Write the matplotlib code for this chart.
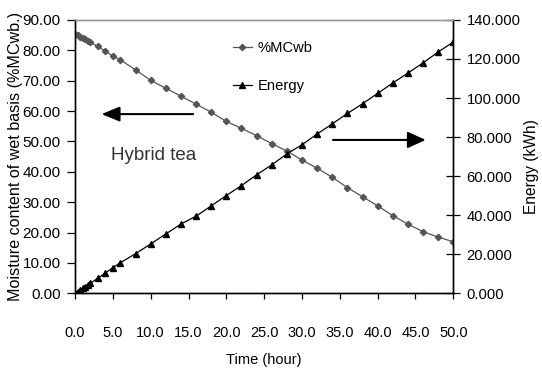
import matplotlib
matplotlib.use("Agg")
import matplotlib.pyplot as plt
from matplotlib.lines import Line2D

plt.rcParams['font.family'] = ['Liberation Sans', 'DejaVu Sans']

time_h = [0, 0.33, 0.67, 1, 1.33, 1.67, 2, 3, 4, 5, 6, 8, 10, 12, 14, 16, 18, 20,
          22, 24, 26, 28, 30, 32, 34, 36, 38, 40, 42, 44, 46, 48, 50]
mc_wb = [85.5, 85.0, 84.5, 84.0, 83.6, 83.1, 82.6, 81.3, 79.7, 78.1, 76.8, 73.6, 70.1,
         67.5, 64.9, 62.3, 59.6, 56.6, 54.3, 51.9, 49.3, 46.8, 43.9, 41.2, 38.2, 34.8,
         31.8, 28.8, 25.6, 22.8, 20.3, 18.5, 17.0]
energy = [0, 0.9, 1.7, 2.5, 3.3, 4.2, 5.1, 7.7, 10.4, 13.1, 15.7, 20.3, 25.3, 30.4,
          35.5, 39.5, 44.8, 50.1, 55.2, 60.7, 65.8, 71.4, 76.1, 81.6, 86.8, 92.1, 97.1,
          102.4, 107.7, 112.8, 118.0, 123.6, 128.7]

x_ticks = [0, 5, 10, 15, 20, 25, 30, 35, 40, 45, 50]
left_ticks = [0, 10, 20, 30, 40, 50, 60, 70, 80, 90]
right_ticks = [0, 20, 40, 60, 80, 100, 120, 140]

fig = plt.figure(figsize=(5.42, 3.69), dpi=100)
ax = fig.add_axes([0.1384, 0.205, 0.6980, 0.741])
ax2 = ax.twinx()

mc_color = '#555555'
ax.plot(time_h, mc_wb, color=mc_color, lw=0.9, marker='D', ms=3.2,
        mfc=mc_color, mec=mc_color, zorder=3)
ax2.plot(time_h, energy, color='black', lw=0.9, marker='^', ms=4.6,
         mfc='black', mec='black', zorder=3)

ax.set_xlim(0, 50)
ax.set_ylim(0, 90)
ax2.set_ylim(0, 140)

ax.set_xticks(x_ticks)
ax.set_xticklabels([f"{v:.1f}" for v in x_ticks], fontsize=10.5)
ax.set_yticks(left_ticks)
ax.set_yticklabels([f"{v:.2f}" for v in left_ticks], fontsize=11.0)
ax2.set_yticks(right_ticks)
ax2.set_yticklabels([f"{v:.3f}" for v in right_ticks], fontsize=10.6)

ax.tick_params(axis='x', direction='out', length=4.5, width=0.9, pad=19)
ax.tick_params(axis='y', direction='out', length=5.8, width=0.9, pad=4.5)
ax2.tick_params(axis='y', direction='inout', length=10, width=0.9, pad=4.5)

for a in (ax, ax2):
    a.spines['top'].set_color('#999999')
    a.spines['top'].set_linewidth(1.0)
    a.spines['left'].set_linewidth(1.0)
    a.spines['right'].set_linewidth(1.0)
    a.spines['bottom'].set_linewidth(1.0)

ax.set_xlabel('Time (hour)', fontsize=10.5, va='center', ha='center')
ax.xaxis.set_label_coords(0.5, -0.2425)
ax.set_ylabel('Moisture content of wet basis (%MCwb.)', fontsize=11.6,
              va='center', ha='center')
ax.yaxis.set_label_coords(-0.158, 0.5)
ax2.set_ylabel('Energy (kWh)', fontsize=11.2, va='center', ha='center')
ax2.yaxis.set_label_coords(1.206, 0.465)

# arrows
ax.annotate('', xy=(3.5, 59.0), xytext=(15.6, 59.0),
            arrowprops=dict(arrowstyle='-|>,head_length=1.1,head_width=0.45',
                            color='black', lw=1.5, shrinkA=0, shrinkB=0))
ax.annotate('', xy=(46.35, 50.5), xytext=(34.1, 50.5),
            arrowprops=dict(arrowstyle='-|>,head_length=1.1,head_width=0.5',
                            color='black', lw=1.5, shrinkA=0, shrinkB=0))

ax.text(4.75, 45.5, 'Hybrid tea', fontsize=13.5, color='#333333', va='center', ha='left')

handles = [Line2D([], [], color=mc_color, lw=0.9, marker='D', ms=3.2, mfc=mc_color, mec=mc_color),
           Line2D([], [], color='black', lw=0.9, marker='^', ms=4.6, mfc='black', mec='black')]
fig.legend(handles, ['%MCwb', 'Energy'], loc='upper left',
           bbox_to_anchor=(0.430, 0.888), frameon=False, fontsize=10.6,
           borderpad=0, borderaxespad=0, handlelength=1.26, handletextpad=0.4,
           labelspacing=1.6)

fig.savefig('out.png', dpi=100)
